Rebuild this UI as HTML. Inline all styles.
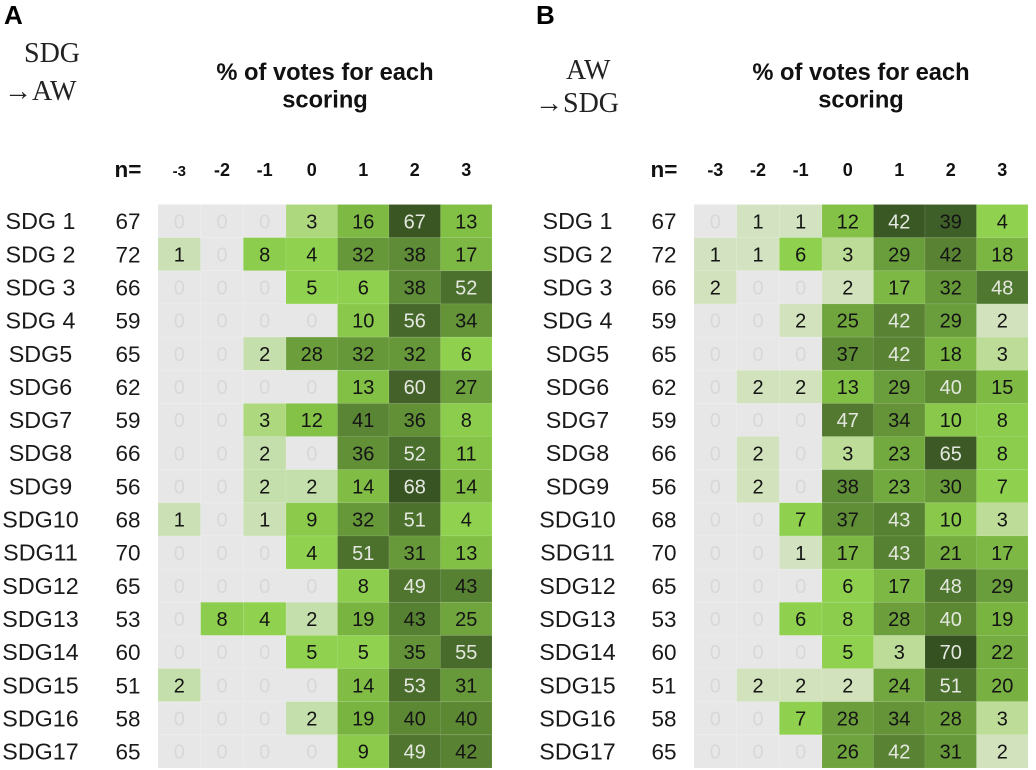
<!DOCTYPE html>
<html>
<head>
<meta charset="utf-8">
<title>SDG and AW scoring heatmaps</title>
<style>
html,body{margin:0;padding:0;background:#fff;width:1036px;height:770px;overflow:hidden}
svg{display:block;filter:blur(.3px)}
text{font-family:"Liberation Sans",sans-serif}
.serif{font-family:"Liberation Serif",serif;fill:#222;font-size:28px}
</style>
</head>
<body>
<svg id="chart" width="1036" height="770" viewBox="0 0 1036 770" xmlns="http://www.w3.org/2000/svg">
  <text x="4" y="24" font-size="26" font-weight="bold" fill="#000">A</text>
  <text x="536" y="24" font-size="26" font-weight="bold" fill="#000">B</text>
  <text class="serif" x="24" y="62">SDG</text>
  <text class="serif" x="4" y="100">→AW</text>
  <text class="serif" x="566" y="79">AW</text>
  <text class="serif" x="535" y="112">→SDG</text>
  <text x="325" y="80" text-anchor="middle" font-size="23.7" font-weight="bold" fill="#111">% of votes for each</text>
  <text x="325" y="107.5" text-anchor="middle" font-size="23.7" font-weight="bold" fill="#111">scoring</text>
  <text x="861" y="80" text-anchor="middle" font-size="23.7" font-weight="bold" fill="#111">% of votes for each</text>
  <text x="861" y="107.5" text-anchor="middle" font-size="23.7" font-weight="bold" fill="#111">scoring</text>
</svg>
<script>
const rowLabels = ["SDG 1","SDG 2","SDG 3","SDG 4","SDG5","SDG6","SDG7","SDG8","SDG9","SDG10","SDG11","SDG12","SDG13","SDG14","SDG15","SDG16","SDG17"];
const sampleSizes = [67,72,66,59,65,62,59,66,56,68,70,65,53,60,51,58,65];
const scoreLabels = ["-3","-2","-1","0","1","2","3"];
const panelAValues = [
  [0,0,0,3,16,67,13],[1,0,8,4,32,38,17],[0,0,0,5,6,38,52],[0,0,0,0,10,56,34],
  [0,0,2,28,32,32,6],[0,0,0,0,13,60,27],[0,0,3,12,41,36,8],[0,0,2,0,36,52,11],
  [0,0,2,2,14,68,14],[1,0,1,9,32,51,4],[0,0,0,4,51,31,13],[0,0,0,0,8,49,43],
  [0,8,4,2,19,43,25],[0,0,0,5,5,35,55],[2,0,0,0,14,53,31],[0,0,0,2,19,40,40],
  [0,0,0,0,9,49,42]
];
const panelBValues = [
  [0,1,1,12,42,39,4],[1,1,6,3,29,42,18],[2,0,0,2,17,32,48],[0,0,2,25,42,29,2],
  [0,0,0,37,42,18,3],[0,2,2,13,29,40,15],[0,0,0,47,34,10,8],[0,2,0,3,23,65,8],
  [0,2,0,38,23,30,7],[0,0,7,37,43,10,3],[0,0,1,17,43,21,17],[0,0,0,6,17,48,29],
  [0,0,6,8,28,40,19],[0,0,0,5,3,70,22],[0,2,2,2,24,51,20],[0,0,7,28,34,28,3],
  [0,0,0,26,42,31,2]
];

const SVG_NS = "http://www.w3.org/2000/svg";
const svg = document.getElementById("chart");

// Band scale for the score columns: negative scores are narrower than the others.
function xEdge(originX, col) {
  if (col <= 3) return originX + col * 42.67;
  return originX + 128 + (col - 3) * 51.5;
}
function yEdge(row) {
  return 204.5 + row * (563.5 / rowLabels.length);
}

function mix(a, b, t) {
  const pa = [1,3,5].map(i => parseInt(a.substr(i,2),16));
  const pb = [1,3,5].map(i => parseInt(b.substr(i,2),16));
  return "rgb(" + pa.map((v,i) => Math.round(v + (pb[i]-v)*t)).join(",") + ")";
}
function shade(value, panelKey) {
  if (value === 0) return "#e7e7e7";
  if (value === 1) return panelKey === "a" ? "#cbe1b5" : "#d3e3c2";
  if (value === 2) return panelKey === "a" ? "#c4dfab" : "#d2e2bd";
  if (value === 3) return panelKey === "a" ? "#aed87e" : "#bcdc98";
  const ramp = [[4,"#90d24f"],[7,"#8fd04e"],[13,"#82bf45"],[18,"#7bb642"],[25,"#70a53e"],[32,"#669739"],[38,"#5f8c36"],[43,"#578132"],[52,"#4b6f2c"],[60,"#436129"],[70,"#365121"]];
  for (let i = 1; i < ramp.length; i++) {
    if (value <= ramp[i][0]) {
      return mix(ramp[i-1][1], ramp[i][1], (value - ramp[i-1][0]) / (ramp[i][0] - ramp[i-1][0]));
    }
  }
  return ramp[ramp.length-1][1];
}
function cellFill(value, panelKey, row) {
  // The first row of panel B is scaled darker in the reference.
  if (panelKey === "b" && row === 0 && value >= 30) return value >= 42 ? "#395824" : "#3f5f28";
  return shade(value, panelKey);
}
function textFill(value, panelKey, row) {
  if (value === 0) return "#d8d8d8";
  if (panelKey === "a") return value >= 49 ? "#e4e8e0" : "#141414";
  if (row === 1) return "#141414";
  if (row === 0 && value < 42) return "#141414";
  return value >= 40 ? "#e4e8e0" : "#141414";
}

function addText(content, x, y, size, weight, fill) {
  const t = document.createElementNS(SVG_NS, "text");
  t.setAttribute("x", x);
  t.setAttribute("y", y);
  t.setAttribute("text-anchor", "middle");
  t.setAttribute("font-size", size);
  if (weight) t.setAttribute("font-weight", weight);
  t.setAttribute("fill", fill);
  t.textContent = content;
  svg.appendChild(t);
  return t;
}

function drawPanel(panelKey, values, originX, labelX, nX) {
  const nHead = addText("n=", nX, 177, 22.5, "bold", "#111");
  
  

  scoreLabels.forEach((label, c) => {
    const cx = (xEdge(originX, c) + xEdge(originX, c + 1)) / 2;
    const small = panelKey === "a" && c === 0;
    const h = addText(label, cx, 176, small ? 15 : 18, "bold", "#111");
    
    
  });

  values.forEach((rowValues, r) => {
    const y0 = yEdge(r), y1 = yEdge(r + 1);
    const lab = addText(rowLabels[r], labelX, y0 + 24.7, 23.3, "", "#1a1a1a");
    
    

    const n = addText(String(sampleSizes[r]), nX, y0 + 24.7, 22.5, "", "#1a1a1a");
    
    

    rowValues.forEach((value, c) => {
      const x0 = xEdge(originX, c), x1 = xEdge(originX, c + 1);
      const rect = document.createElementNS(SVG_NS, "rect");
      rect.setAttribute("x", x0);
      rect.setAttribute("y", y0);
      rect.setAttribute("width", x1 - x0);
      rect.setAttribute("height", y1 - y0);
      rect.setAttribute("fill", cellFill(value, panelKey, r));
      rect.setAttribute("stroke", "rgba(255,255,255,0.1)");
      rect.setAttribute("stroke-width", "0.8");
      
      
      svg.appendChild(rect);

      const v = addText(String(value), (x0 + x1) / 2, y0 + 23.8, 20, "", textFill(value, panelKey, r));
      
      
    });
  });
}

drawPanel("a", panelAValues, 158, 40.5, 128);
drawPanel("b", panelBValues, 694, 577.5, 664);
</script>
</body>
</html>
